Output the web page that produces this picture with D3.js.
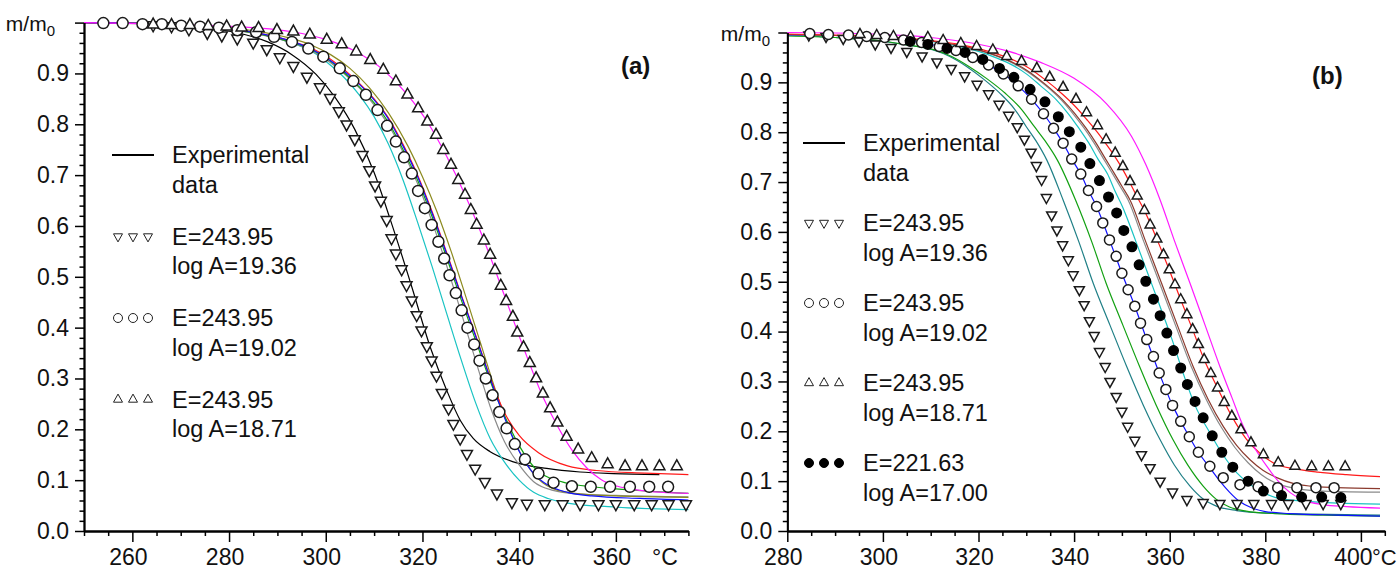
<!DOCTYPE html>
<html><head><meta charset="utf-8">
<script src="https://cdn.jsdelivr.net/npm/d3@7"></script>
<style>
body{margin:0;background:#fff;}
svg{display:block;font-family:"Liberation Sans",Arial,sans-serif;}
</style></head><body>
<svg id="c" width="1399" height="571"></svg>
<script>
// ---------- Panel (a) data : [temperature °C, m/m0] ----------
const aXTicks = [260,280,300,320,340,360];
const aYTicks = [0,0.1,0.2,0.3,0.4,0.5,0.6,0.7,0.8,0.9];
const aDown = [[264.3,0.995],[268.1,0.993],[271.7,0.987],[275.5,0.98],[278.5,0.975],[281.7,0.969],[285,0.961],[287.8,0.948],[290.5,0.932],[293.3,0.915],[296.1,0.894],[298.8,0.873],[300.9,0.852],[302.7,0.826],[304.3,0.80],[306,0.771],[307.6,0.74],[309,0.71],[310.2,0.68],[311.4,0.65],[312.6,0.612],[313.6,0.576],[314.5,0.546],[315.7,0.515],[316.7,0.484],[317.8,0.454],[318.8,0.425],[319.8,0.395],[320.9,0.364],[321.9,0.336],[322.9,0.306],[324.0,0.272],[325.4,0.241],[326.4,0.211],[327.8,0.182],[329.2,0.152],[330.9,0.123],[332.9,0.097],[335.4,0.074],[338.5,0.057],[341.6,0.054],[345.3,0.053],[349.0,0.053],[352.6,0.053],[356.4,0.053],[360.0,0.053],[363.8,0.053],[367.4,0.053],[370.9,0.053],[374.5,0.053]];
const aCircle = [[254.0,0.999],[258.0,0.999],[262.1,0.997],[266.1,0.997],[270.1,0.994],[274.0,0.992],[277.9,0.990],[281.7,0.985],[285.6,0.981],[289.3,0.972],[293.0,0.962],[296.4,0.949],[299.5,0.933],[302.9,0.910],[305.7,0.885],[308.3,0.858],[310.7,0.828],[312.7,0.797],[314.5,0.766],[316.2,0.735],[317.8,0.703],[319.1,0.669],[320.5,0.635],[321.9,0.602],[323.3,0.569],[324.5,0.536],[325.6,0.503],[326.9,0.468],[328.1,0.434],[329.3,0.400],[330.7,0.367],[331.8,0.335],[333.1,0.300],[334.5,0.267],[335.9,0.234],[337.4,0.202],[339.1,0.171],[341.2,0.141],[344.0,0.113],[347.1,0.095],[350.9,0.088],[354.8,0.087],[358.8,0.087],[362.9,0.087],[366.9,0.087],[370.8,0.087]];
const aUp = [[264.3,0.996],[268.1,0.995],[271.9,0.995],[275.7,0.993],[279.5,0.992],[282.6,0.990],[286.1,0.989],[289.9,0.985],[293.3,0.982],[296.7,0.976],[300.2,0.966],[303.3,0.957],[306.3,0.943],[309.2,0.926],[311.9,0.907],[314.5,0.884],[316.9,0.858],[319.1,0.831],[321.0,0.805],[322.8,0.779],[324.3,0.749],[325.9,0.720],[327.4,0.690],[328.8,0.661],[330.0,0.631],[331.2,0.602],[332.7,0.571],[334.0,0.543],[335.0,0.513],[336.2,0.482],[337.3,0.452],[338.7,0.421],[339.6,0.390],[340.9,0.361],[342.2,0.330],[343.5,0.300],[344.9,0.270],[346.4,0.241],[347.9,0.213],[349.8,0.185],[352.2,0.160],[355.0,0.143],[358.3,0.131],[361.9,0.127],[365.4,0.127],[369.0,0.127],[372.6,0.127]];
const aBlack = [[250,1],[265,0.997],[275,0.99],[283,0.977],[288,0.962],[293,0.937],[298,0.898],[302,0.852],[306,0.79],[310,0.705],[313.4,0.611],[317.8,0.48],[321.6,0.362],[325,0.277],[327.8,0.218],[330.5,0.182],[334,0.156],[338.8,0.136],[345.7,0.123],[352.6,0.116],[359.5,0.113],[369,0.111]];
const aRed = [[250,1],[265,0.998],[275,0.992],[285,0.981],[292,0.966],[297,0.95],[301,0.928],[304,0.906],[307,0.88],[310,0.85],[313,0.812],[316,0.76],[319,0.70],[322,0.628],[325,0.548],[328,0.465],[331,0.385],[334,0.302],[337,0.232],[340,0.188],[344,0.154],[350,0.128],[356,0.119],[366,0.114],[375,0.111]];
const aGreen = [[250,1],[265,0.998],[275,0.992],[285,0.98],[292,0.964],[297,0.947],[301,0.924],[304,0.9],[307,0.873],[310,0.842],[313,0.803],[316,0.75],[319,0.69],[322,0.618],[325,0.538],[328,0.455],[331,0.375],[334,0.295],[337,0.226],[340,0.168],[344,0.117],[350,0.094],[355,0.087],[360,0.083],[375,0.074]];
const aBlue = [[250,1],[265,0.998],[275,0.992],[285,0.981],[292,0.966],[297,0.948],[301,0.925],[304,0.903],[307,0.878],[310,0.848],[313,0.81],[316,0.757],[319,0.697],[322,0.625],[325,0.545],[328,0.463],[331,0.383],[334,0.30],[337,0.222],[340,0.157],[343,0.113],[346,0.09],[350,0.076],[355,0.069],[365,0.064],[375,0.061]];
const aOlive = [[250,1],[265,0.998],[275,0.993],[285,0.984],[292,0.971],[297,0.956],[301,0.937],[305,0.91],[309,0.872],[313,0.822],[317,0.757],[320,0.697],[323,0.628],[326,0.548],[329,0.46],[332,0.37],[335,0.28],[338,0.2],[341,0.14],[344,0.102],[348,0.08],[355,0.071],[375,0.066]];
const aGray = [[250,1],[265,0.998],[275,0.991],[285,0.979],[292,0.963],[297,0.945],[301,0.921],[304,0.898],[307,0.871],[310,0.838],[313,0.798],[316,0.745],[319,0.683],[322,0.608],[325,0.522],[328,0.43],[331,0.335],[334,0.245],[337,0.175],[340,0.13],[343,0.097],[347,0.08],[352,0.073],[360,0.07],[375,0.067]];
const aCyan = [[250,1],[265,0.998],[275,0.992],[285,0.98],[292,0.963],[297,0.944],[301,0.916],[304,0.89],[307,0.857],[310,0.815],[313,0.76],[316,0.69],[319,0.607],[322,0.52],[325,0.428],[328,0.337],[331,0.252],[334,0.182],[337,0.135],[340,0.1],[343,0.076],[346,0.064],[350,0.055],[360,0.047],[375,0.042]];
const aMagenta = [[250,1],[270,0.996],[285,0.99],[293,0.982],[300,0.967],[306,0.944],[312,0.906],[317,0.857],[321,0.805],[325,0.737],[329,0.657],[333,0.565],[337,0.462],[341,0.358],[345,0.262],[348,0.205],[351,0.158],[354,0.124],[357,0.101],[360,0.089],[365,0.08],[375,0.074]];

// ---------- Panel (b) data ----------
const bXTicks = [280,300,320,340,360,380,400];
const bYTicks = [0,0.1,0.2,0.3,0.4,0.5,0.6,0.7,0.8,0.9];
const bDown = [[284.5,0.995],[288.1,0.992],[291.7,0.988],[295.0,0.983],[298.4,0.977],[301.7,0.970],[305.0,0.962],[308.2,0.953],[311.3,0.941],[314.3,0.928],[317.1,0.913],[319.7,0.896],[322.1,0.877],[324.3,0.856],[326.3,0.834],[328.1,0.811],[329.6,0.786],[331.0,0.760],[332.1,0.733],[333.2,0.705],[334.2,0.669],[335.3,0.634],[336.4,0.604],[337.6,0.574],[338.8,0.544],[339.8,0.514],[341.1,0.484],[342.1,0.454],[343.2,0.422],[344.2,0.392],[345.3,0.360],[346.5,0.330],[347.5,0.300],[348.8,0.270],[350.0,0.240],[351.2,0.210],[352.7,0.182],[354.1,0.153],[355.9,0.127],[358.0,0.100],[360.6,0.078],[363.6,0.063],[367.0,0.057],[370.5,0.055],[374.1,0.055],[377.6,0.055],[381.3,0.055],[384.8,0.055],[388.5,0.055],[392.1,0.055],[395.8,0.055]];
const bCircle = [[284.7,0.998],[288.6,0.996],[292.8,0.995],[296.6,0.992],[300.4,0.990],[304.3,0.985],[308.1,0.980],[311.8,0.972],[315.3,0.964],[318.8,0.950],[322.1,0.935],[325.2,0.917],[328.3,0.893],[331.1,0.866],[333.6,0.837],[335.7,0.808],[337.7,0.778],[339.5,0.746],[341.4,0.716],[343.0,0.683],[344.7,0.651],[346.0,0.618],[347.4,0.584],[348.8,0.551],[350.0,0.517],[351.3,0.484],[352.7,0.451],[353.9,0.417],[355.2,0.384],[356.6,0.350],[357.8,0.317],[359.2,0.284],[360.6,0.252],[362.3,0.220],[364.1,0.189],[366.0,0.158],[368.4,0.130],[371.2,0.107],[374.7,0.093],[378.5,0.089],[382.6,0.087],[386.6,0.087],[390.6,0.087],[394.4,0.087]];
const bUp = [[295.2,0.996],[298.7,0.994],[302.2,0.992],[305.8,0.991],[309.4,0.990],[312.6,0.984],[316.3,0.978],[319.6,0.972],[323.0,0.965],[325.9,0.952],[329.0,0.942],[332.2,0.928],[334.9,0.910],[337.7,0.890],[340.4,0.866],[342.6,0.839],[344.9,0.813],[346.7,0.785],[348.6,0.758],[350.2,0.731],[351.7,0.701],[353.2,0.672],[354.7,0.643],[355.9,0.614],[357.3,0.586],[358.7,0.554],[359.9,0.524],[361.1,0.494],[362.3,0.464],[363.6,0.434],[364.8,0.404],[366.0,0.374],[367.2,0.344],[368.6,0.316],[370.0,0.287],[371.4,0.258],[373.0,0.230],[374.9,0.203],[377.0,0.177],[379.6,0.153],[382.7,0.137],[386.2,0.130],[389.7,0.129],[393.2,0.129],[396.7,0.129]];
const bDot = [[305.7,0.982],[309.4,0.976],[313.4,0.968],[317.2,0.960],[320.9,0.946],[324.4,0.928],[327.4,0.910],[330.8,0.886],[333.9,0.861],[336.7,0.831],[339.0,0.801],[341.4,0.770],[343.3,0.737],[345.3,0.703],[347.2,0.670],[348.9,0.638],[350.4,0.603],[352.1,0.570],[353.6,0.534],[355.0,0.501],[356.6,0.465],[358.0,0.432],[359.4,0.397],[360.8,0.362],[362.3,0.327],[363.7,0.294],[365.3,0.260],[367.0,0.227],[368.9,0.191],[370.9,0.158],[373.2,0.128],[376.4,0.100],[379.6,0.080],[383.4,0.071],[387.6,0.068],[391.8,0.068],[395.8,0.067]];
const bTeal = [[280,0.995],[290,0.99],[300,0.982],[305,0.975],[310.5,0.965],[314,0.952],[317.5,0.932],[321,0.907],[324.5,0.878],[327.5,0.847],[330,0.811],[332,0.783],[334.3,0.744],[337.7,0.664],[341,0.58],[344,0.497],[347.5,0.413],[351,0.33],[354.5,0.252],[358,0.183],[361,0.132],[364.25,0.09],[367,0.064],[370,0.049],[374,0.041],[380,0.036],[390,0.034],[404,0.032]];
const bGreen = [[280,0.993],[290,0.99],[300,0.983],[305.2,0.975],[310.8,0.965],[314.4,0.952],[318,0.932],[321.8,0.907],[325.6,0.878],[328.9,0.847],[331.7,0.811],[333.9,0.783],[336.5,0.744],[340.3,0.664],[343.7,0.58],[346.7,0.497],[350.2,0.413],[353.7,0.33],[357.2,0.252],[360.7,0.183],[363.8,0.132],[367,0.09],[369.7,0.064],[372.5,0.048],[376,0.04],[382,0.035],[392,0.032],[404,0.03]];
const bBlue = [[280,0.995],[290,0.994],[300,0.989],[305,0.984],[310,0.976],[315,0.964],[319,0.948],[322,0.935],[325.2,0.917],[328.3,0.893],[331.1,0.866],[333.6,0.837],[335.7,0.808],[337.7,0.778],[339.5,0.746],[341.4,0.716],[343,0.683],[344.7,0.651],[347.4,0.584],[350,0.517],[352.7,0.451],[355.2,0.384],[357.8,0.317],[360.6,0.252],[362.3,0.22],[364.1,0.189],[366,0.158],[368.4,0.127],[370.5,0.1],[372.5,0.078],[374.5,0.06],[377,0.047],[380,0.039],[385,0.035],[395,0.032],[404,0.03]];
const bCyan = [[280,0.996],[290,0.994],[300,0.99],[305,0.987],[310,0.982],[315,0.974],[320,0.962],[324,0.948],[327,0.935],[330,0.917],[333,0.893],[336.2,0.866],[338.8,0.837],[341,0.808],[343.1,0.778],[345,0.746],[347,0.716],[348.5,0.683],[350.1,0.651],[352.8,0.584],[355.4,0.517],[358,0.45],[360.5,0.384],[362.8,0.317],[365.3,0.252],[368.4,0.197],[371,0.155],[374,0.117],[377,0.092],[379.6,0.077],[383,0.065],[388,0.06],[395,0.056],[404,0.054]];
const bBrown = [[280,0.996],[290,0.994],[300,0.991],[310,0.983],[316,0.974],[321,0.962],[326,0.945],[330,0.925],[334,0.896],[337.5,0.866],[340.2,0.837],[342.5,0.808],[344.6,0.778],[346.6,0.746],[348.5,0.716],[350.1,0.69],[351.7,0.664],[355,0.58],[358.3,0.497],[361.6,0.413],[364.9,0.33],[368,0.265],[371.2,0.21],[374,0.172],[376.8,0.143],[379.5,0.122],[382.4,0.107],[386,0.095],[389.4,0.09],[395,0.087],[404,0.085]];
const bGray = [[280,0.996],[290,0.994],[300,0.991],[310,0.983],[316,0.974],[321,0.962],[326,0.944],[330,0.923],[334,0.894],[337.2,0.866],[339.8,0.837],[342.1,0.808],[344.2,0.778],[346.2,0.746],[348.1,0.716],[349.7,0.69],[351.3,0.664],[354.6,0.58],[357.9,0.497],[361.2,0.413],[364.5,0.33],[367.6,0.265],[370.8,0.208],[373.6,0.168],[376.4,0.137],[379.2,0.113],[382,0.097],[386,0.086],[390,0.081],[396,0.079],[404,0.078]];
const bRed = [[280,0.997],[290,0.995],[300,0.992],[310,0.984],[316,0.976],[321,0.965],[326,0.95],[330,0.932],[334,0.905],[337.7,0.875],[340.4,0.85],[342.6,0.826],[344.85,0.8],[346.7,0.776],[348.6,0.75],[350.2,0.725],[351.7,0.698],[353.2,0.67],[354.7,0.643],[357.3,0.586],[359.9,0.524],[362.3,0.464],[364.8,0.404],[367.2,0.344],[370,0.287],[373,0.23],[376,0.185],[379,0.155],[382,0.135],[386,0.125],[391,0.118],[397,0.113],[404,0.109]];
const bMagenta = [[280,1.0],[290,0.999],[300,0.996],[310,0.99],[318,0.98],[326,0.963],[333,0.94],[340,0.908],[346.8,0.857],[352,0.792],[355,0.735],[358,0.664],[361,0.582],[364.25,0.497],[367.4,0.413],[370.5,0.33],[373,0.268],[375.4,0.21],[378,0.163],[380.3,0.13],[382.7,0.1],[385.2,0.077],[388,0.062],[392,0.053],[397,0.049],[404,0.046]];

// legend texts
const aLegend = [["Experimental","data"],["E=243.95","log A=19.36"],["E=243.95","log A=19.02"],["E=243.95","log A=18.71"]];
const bLegend = [["Experimental","data"],["E=243.95","log A=19.36"],["E=243.95","log A=19.02"],["E=243.95","log A=18.71"],["E=221.63","log A=17.00"]];

// ---------- drawing ----------
const svg = d3.select("#c");
const AX = "#000";
const FONT = "Liberation Sans, Arial";

function triDown(s){const h=s*0.9;return `M${-s/2},${-h/3}L${s/2},${-h/3}L0,${2*h/3}Z`;}
function triUp(s){const h=s*0.9;return `M${-s/2},${h/3}L${s/2},${h/3}L0,${-2*h/3}Z`;}

function drawMarkers(g, data, x, y, kind, size){
  const sel = g.append("g").selectAll("path").data(data).join("path")
    .attr("transform", d=>`translate(${x(d[0])},${y(d[1])})`)
    .attr("stroke","#1a1a1a").attr("stroke-width",1.5);
  if(kind==="down") sel.attr("d", triDown(size)).attr("fill","#fff");
  else if(kind==="up") sel.attr("d", triUp(size)).attr("fill","#fff");
  else if(kind==="circle") sel.attr("d", d3.symbol(d3.symbolCircle, Math.PI*size*size/4)()).attr("fill","#fff");
  else if(kind==="dot") sel.attr("d", d3.symbol(d3.symbolCircle, Math.PI*size*size/4)()).attr("fill","#000").attr("stroke","#000");
}

function drawPanel(cfg){
  const {x, y, xTicks, yTicks, lines, markers, label, labelPos, legend, legendPos, msize} = cfg;
  const g = svg.append("g");
  const [x0,x1] = x.domain();
  const y0 = y(0);
  const line = d3.line().x(d=>x(d[0])).y(d=>y(d[1])).curve(d3.curveMonotoneX);
  lines.forEach(([data,color,w])=>{
    g.append("path").datum(data).attr("d",line).attr("fill","none")
      .attr("stroke",color).attr("stroke-width",w||1.2);
  });
  markers.forEach(([data,kind])=>drawMarkers(g,data,x,y,kind,msize[kind]));

  // x axis
  const minor = d3.range(x0, x1+0.001, 5).filter(v=>!xTicks.includes(v));
  const gxm = g.append("g").attr("transform",`translate(0,${y0})`)
    .call(d3.axisBottom(x).tickValues(minor).tickSize(5).tickSizeOuter(0).tickFormat(""));
  const gx = g.append("g").attr("transform",`translate(0,${y0})`)
    .call(d3.axisBottom(x).tickValues(xTicks).tickSize(11).tickSizeOuter(0).tickFormat(d3.format("d")));
  gx.selectAll("text").attr("y",34).attr("dy",0).attr("dx",d=>d===cfg.lastTick?cfg.lastDx:-4.5)
    .attr("font-size",23).attr("font-family",FONT).attr("fill","#111");
  // y axis
  const yMinor = d3.range(0, 1.0001, 0.02).map(v=>+v.toFixed(2)).filter(v=>Math.abs(v*10-Math.round(v*10))>1e-6);
  const gym = g.append("g").attr("transform",`translate(${x(x0)},0)`)
    .call(d3.axisLeft(y).tickValues(yMinor).tickSize(4.5).tickSizeOuter(0).tickFormat(""));
  const gy = g.append("g").attr("transform",`translate(${x(x0)},0)`)
    .call(d3.axisLeft(y).tickValues(yTicks.concat([1])).tickSize(9).tickSizeOuter(0).tickFormat(d=>d===1?"":d3.format(".1f")(d)));
  gy.selectAll("text").attr("x",-15).attr("font-size",23).attr("font-family",FONT).attr("fill","#111");
  [gxm,gx,gym,gy].forEach(a=>{a.selectAll("line").attr("stroke",AX).attr("stroke-width",1.5);
    a.selectAll(".domain").attr("stroke",AX).attr("stroke-width",1.8);});

  // m/m0 label
  const t = g.append("text").attr("x",cfg.mmX).attr("y",y(1)+8).attr("text-anchor","end")
    .attr("font-size",21).attr("fill","#111");
  t.append("tspan").text("m/m");
  t.append("tspan").attr("font-size",15).attr("dy",5).text("0");
  // °C
  g.append("text").attr("x",cfg.degX).attr("y",y0+34).attr("font-size",cfg.degSize).attr("fill","#111").text("°C");
  // panel label
  g.append("text").attr("x",labelPos[0]).attr("y",labelPos[1]).attr("font-size",24)
    .attr("font-weight","bold").attr("fill","#111").text(label);

  // legend
  const lg = g.append("g");
  const [lx, ly, lstep] = legendPos;
  legend.forEach((txt,i)=>{
    const cy = ly + i*lstep;
    const tx = lx + 60;
    if(i===0){
      lg.append("line").attr("x1",lx).attr("x2",lx+42).attr("y1",cy).attr("y2",cy)
        .attr("stroke","#000").attr("stroke-width",2);
    } else {
      const kind = ["","down","circle","up","dot"][i];
      const pts = [0,1,2].map(k=>[lx+6+k*15, cy]);
      const s = lg.append("g").selectAll("path").data(pts).join("path")
        .attr("transform",d=>`translate(${d[0]},${d[1]})`).attr("stroke","#222").attr("stroke-width",1);
      if(kind==="down") s.attr("d",triDown(9)).attr("fill","#fff");
      if(kind==="up") s.attr("d",triUp(9)).attr("fill","#fff");
      if(kind==="circle") s.attr("d",d3.symbol(d3.symbolCircle,Math.PI*81/4)()).attr("fill","#fff");
      if(kind==="dot") s.attr("d",d3.symbol(d3.symbolCircle,Math.PI*81/4)()).attr("fill","#000").attr("stroke","#000");
    }
    txt.forEach((tt,j)=>{
      lg.append("text").attr("x",tx).attr("y",cy+8+j*29.5).attr("font-size",23.5).attr("fill","#111").text(tt);
    });
  });
}

const xA = d3.scaleLinear().domain([250,375]).range([84,688.4]);
const yA = d3.scaleLinear().domain([0,1]).range([531,22.6]);
drawPanel({
  x:xA, y:yA, xTicks:aXTicks, yTicks:aYTicks,
  lines:[[aBlack,"#000"],[aCyan,"#19c3c3"],[aGray,"#8a8a8a"],[aOlive,"#8c8a1e"],[aGreen,"#12a012"],[aRed,"#ff1a1a"],[aBlue,"#1010ff"],[aMagenta,"#ff19ff"]],
  markers:[[aDown,"down"],[aCircle,"circle"],[aUp,"up"]],
  msize:{down:11,up:11,circle:11,dot:10},
  label:"(a)", labelPos:[621,74], legend:aLegend, legendPos:[112,155,81.5],
  mmX:55, degX:652, degSize:23, lastTick:null, lastDx:-4.5
});

const xB = d3.scaleLinear().domain([280,405]).range([787.3,1384.8]);
const yB = d3.scaleLinear().domain([0,1]).range([531,32.5]);
drawPanel({
  x:xB, y:yB, xTicks:bXTicks, yTicks:bYTicks,
  lines:[[bTeal,"#1f7f86"],[bGreen,"#12a012"],[bBlue,"#1010ff"],[bCyan,"#19c3c3"],[bGray,"#8a8a8a"],[bBrown,"#8b3a2e"],[bRed,"#ff1a1a"],[bMagenta,"#ff19ff"]],
  markers:[[bDown,"down"],[bCircle,"circle"],[bUp,"up"],[bDot,"dot"]],
  msize:{down:10,up:10,circle:10,dot:9.5},
  label:"(b)", labelPos:[1312,84], legend:bLegend, legendPos:[803,143,80],
  mmX:770, degX:1372, degSize:22, lastTick:400, lastDx:-8
});
</script></body></html>
